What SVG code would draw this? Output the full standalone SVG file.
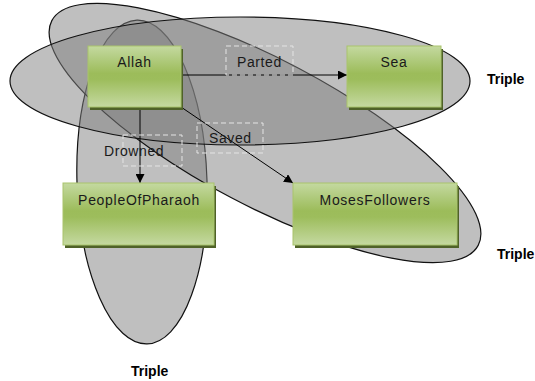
<svg xmlns="http://www.w3.org/2000/svg" width="535" height="381" viewBox="0 0 535 381">
<defs>
<linearGradient id="g" x1="0" y1="0" x2="0" y2="1">
<stop offset="0" stop-color="#c4d9a0"/>
<stop offset="0.45" stop-color="#9cbc5a"/>
<stop offset="0.55" stop-color="#9dbd5c"/>
<stop offset="1" stop-color="#c5d9a1"/>
</linearGradient>
<marker id="ah" viewBox="0 0 10 10" refX="10" refY="5" markerWidth="9" markerHeight="9" markerUnits="userSpaceOnUse" orient="auto">
<path d="M0,0 L10,5 L0,10 Z" fill="#000"/>
</marker>
<style>
.ell{fill:rgba(128,128,128,0.5);stroke:#111;stroke-width:1.2}
.box{fill:url(#g);stroke:#a9c46c;stroke-width:1}
.shd{fill:#4f6228}
.nt{font-family:"Liberation Sans",Arial,sans-serif;font-size:14px;letter-spacing:0.7px;fill:#1a1a1a;text-anchor:middle}
.lt{font-family:"Liberation Sans",Arial,sans-serif;font-size:14px;letter-spacing:0.6px;fill:#1a1a1a}
.tr{font-family:"Liberation Sans",Arial,sans-serif;font-size:14px;font-weight:bold;fill:#000}
.edge{stroke:#000;stroke-width:1;fill:none;marker-end:url(#ah)}
.lb{fill:none;stroke:#e4e4e4;stroke-width:1;stroke-dasharray:5,3}
</style>
</defs>
<rect width="535" height="381" fill="#fff"/>
<g id="triples">
<ellipse id="triple-drowned" class="ell" cx="142" cy="182" rx="65" ry="162" transform="rotate(-1.8 142 182)"/>
<ellipse id="triple-saved" class="ell" cx="265" cy="133" rx="241" ry="73" transform="rotate(27.8 265 133)"/>
<ellipse id="triple-parted" class="ell" cx="240" cy="81" rx="230" ry="64"/>
</g>
<g id="connectors">
<line class="edge" x1="181" y1="75" x2="347" y2="75"/>
<line class="edge" x1="140" y1="108" x2="140" y2="183"/>
<line class="edge" x1="181" y1="107" x2="293" y2="183"/>
<rect class="lb" x="226" y="46" width="67" height="29"/>
<rect class="lb" x="123" y="135" width="59" height="31"/>
<rect class="lb" x="197" y="123" width="66" height="30"/>
<text class="lt" x="237" y="67">Parted</text>
<text class="lt" x="104" y="156">Drowned</text>
<text class="lt" x="209" y="143">Saved</text>
</g>
<g id="node-allah">
<rect class="shd" x="90" y="49" width="93" height="61"/>
<rect class="box" x="88" y="46" width="93" height="61"/>
<text class="nt" x="134.5" y="67">Allah</text>
</g>
<g id="node-sea">
<rect class="shd" x="349" y="49" width="94" height="61"/>
<rect class="box" x="347" y="46" width="94" height="61"/>
<text class="nt" x="394" y="67">Sea</text>
</g>
<g id="node-peopleofpharaoh">
<rect class="shd" x="65" y="186" width="151" height="62"/>
<rect class="box" x="63" y="183" width="151" height="62"/>
<text class="nt" x="139" y="205">PeopleOfPharaoh</text>
</g>
<g id="node-mosesfollowers">
<rect class="shd" x="295" y="186" width="164" height="62"/>
<rect class="box" x="293" y="183" width="164" height="62"/>
<text class="nt" x="375" y="205">MosesFollowers</text>
</g>
<g id="triple-labels">
<text class="tr" x="487" y="84">Triple</text>
<text class="tr" x="497" y="259">Triple</text>
<text class="tr" x="131" y="376">Triple</text>
</g>
</svg>
